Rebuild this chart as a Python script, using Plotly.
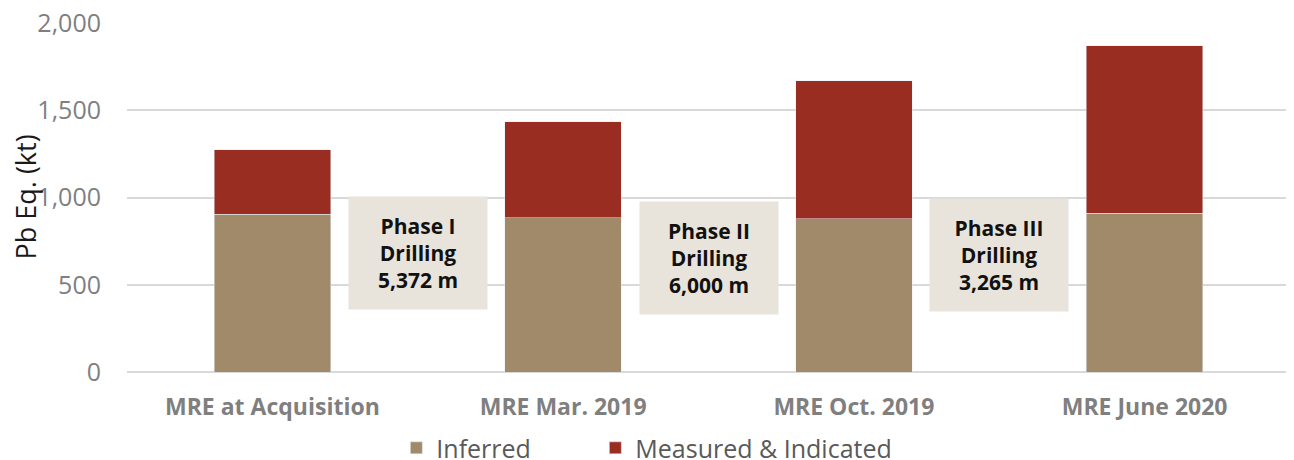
"""Pb Eq. mineral resource estimate growth chart."""

import plotly.graph_objects as go

CATEGORIES = ["MRE at Acquisition", "MRE Mar. 2019", "MRE Oct. 2019", "MRE June 2020"]
INFERRED = [905, 883, 877, 911]
MEASURED_INDICATED = [370, 552, 793, 960]

PHASE_LABELS = [
    "Phase I<br>Drilling<br>5,372 m",
    "Phase II<br>Drilling<br>6,000 m",
    "Phase III<br>Drilling<br>3,265 m",
]
PHASE_X = [0.5, 1.5, 2.5]
PHASE_Y = [682, 653, 673]

FONT = "Open Sans"
GREY = "#7f7f7f"

# the page body has an 8px margin, so the figure is sized to fit inside it
WIDTH, HEIGHT = 1286, 452

fig = go.Figure()
fig.add_trace(
    go.Bar(x=CATEGORIES, y=INFERRED, name="Inferred", marker_color="#a08a69", legend="legend")
)
fig.add_trace(
    go.Bar(
        x=CATEGORIES,
        y=MEASURED_INDICATED,
        name="Measured & Indicated",
        marker_color="#992d22",
        legend="legend2",
    )
)

for label, x, y in zip(PHASE_LABELS, PHASE_X, PHASE_Y):
    fig.add_annotation(
        x=x,
        y=y,
        text=f"<b>{label}</b>",
        showarrow=False,
        bgcolor="#e8e4dc",
        width=136,
        height=110,
        font={"family": FONT, "size": 21, "color": "#111111"},
    )

# y axis title placed by hand, the axis title can't sit that far left
fig.add_annotation(
    text="Pb Eq. (kt)",
    xref="paper",
    yref="paper",
    x=-0.0877,
    y=0.5,
    xanchor="center",
    yanchor="middle",
    textangle=-90,
    showarrow=False,
    font={"family": FONT, "size": 27, "color": "#1a1a1a"},
)

legend_style = {
    "orientation": "h",
    "y": -0.218,
    "yanchor": "middle",
    "xanchor": "left",
    "bgcolor": "rgba(0,0,0,0)",
    "font": {"size": 25, "color": "#595959"},
}

fig.update_layout(
    barmode="stack",
    bargap=0.6,
    width=WIDTH,
    height=HEIGHT,
    showlegend=True,
    plot_bgcolor="white",
    paper_bgcolor="white",
    margin={"l": 119, "r": 4, "t": 15, "b": 88, "autoexpand": False},
    font={"family": FONT, "color": GREY},
    legend={**legend_style, "x": 0.2316},
    legend2={**legend_style, "x": 0.4027},
    xaxis={
        "tickfont": {"size": 23, "color": GREY, "weight": "bold"},
        "showgrid": False,
        "showline": False,
        "ticklabelstandoff": 19,
    },
    yaxis={
        "range": [0, 2000],
        "dtick": 500,
        "tickformat": ",",
        "tickfont": {"size": 25, "color": GREY},
        "ticklabeloverflow": "allow",
        "gridcolor": "#d9d9d9",
        "gridwidth": 1.5,
        "zeroline": True,
        "zerolinecolor": "#d9d9d9",
        "zerolinewidth": 1.5,
        "ticklabelstandoff": 25,
    },
)

fig.write_html("out.html")
